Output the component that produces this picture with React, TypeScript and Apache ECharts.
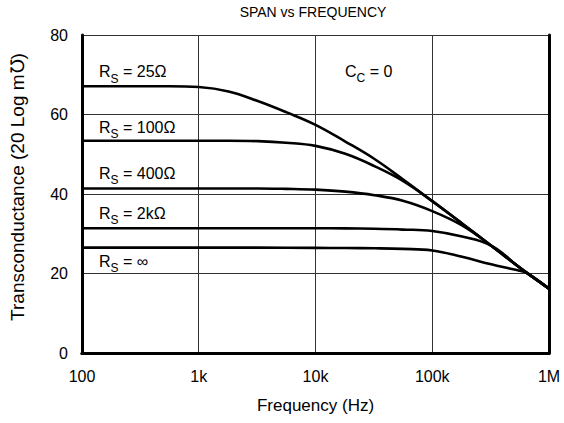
import React, { useEffect, useRef } from "react";
import * as echarts from "echarts";

const titleText = "SPAN vs FREQUENCY";
const xAxisName = "Frequency (Hz)";
const yAxisName = "Transconductance (20 Log m\u2127)";
const xTickValues = [100, 1000, 10000, 100000, 1000000];
const xTickLabels = ["100", "1k", "10k", "100k", "1M"];
const yTicks = [0, 20, 40, 60, 80];

// [frequency Hz, dB]
const rs25: [number, number][] = [
  [100, 67.1], [180, 67.1], [320, 67.1], [560, 67.1], [1000, 66.9], [1800, 65.8],
  [3200, 63.4], [5600, 60.6], [10000, 57.4], [18000, 53.2], [32000, 48.8],
  [56000, 43.7], [100000, 38.2], [180000, 32.6], [320000, 27.0], [560000, 21.5],
  [650000, 20.1], [1000000, 16.2],
];
const rs100: [number, number][] = [
  [100, 53.4], [180, 53.4], [320, 53.4], [560, 53.4], [1000, 53.4], [1800, 53.4],
  [3200, 53.3], [5600, 52.9], [10000, 52.1], [18000, 50.1], [32000, 47.0],
  [56000, 43.3], [100000, 38.2], [180000, 32.6], [320000, 27.0], [560000, 21.5],
  [650000, 20.1], [1000000, 16.2],
];
const rs400: [number, number][] = [
  [100, 41.4], [320, 41.4], [1000, 41.4], [1800, 41.4], [3200, 41.4], [5600, 41.3],
  [10000, 41.1], [18000, 40.6], [32000, 39.7], [56000, 38.3], [100000, 35.7],
  [180000, 32.1], [320000, 27.0], [560000, 21.5], [650000, 20.1], [1000000, 16.2],
];
const rs2k: [number, number][] = [
  [100, 31.4], [320, 31.4], [1000, 31.4], [3200, 31.4], [10000, 31.4], [18000, 31.35],
  [32000, 31.25], [56000, 31.05], [100000, 30.7], [180000, 29.3], [320000, 27.0],
  [560000, 21.5], [650000, 20.1], [1000000, 16.2],
];
const rsInf: [number, number][] = [
  [100, 26.5], [320, 26.5], [1000, 26.5], [3200, 26.5], [10000, 26.45], [18000, 26.4],
  [32000, 26.35], [56000, 26.2], [100000, 25.8], [180000, 24.2], [320000, 22.3],
  [450000, 21.3], [560000, 20.7], [650000, 20.1], [1000000, 16.2],
];

const seriesNames = ["RS = 25Ω", "RS = 100Ω", "RS = 400Ω", "RS = 2kΩ", "RS = ∞"];
const seriesData = [rs25, rs100, rs400, rs2k, rsInf];
const labelValues = ["25Ω", "100Ω", "400Ω", "2kΩ", "∞"];

const FONT = "'Liberation Sans', Arial, Helvetica, sans-serif";

export default function App() {
  const ref = useRef<HTMLDivElement>(null);
  useEffect(() => {
    if (!ref.current) return;
    document.body.style.margin = "0";
    const chart = echarts.init(ref.current, undefined, { renderer: "svg" });
    const rich = {
      r: { fontSize: 16, fontFamily: FONT, color: "#000" },
      s: { fontSize: 12, fontFamily: FONT, color: "#000", padding: [14, 0, 0, 0] },
    };
    const labelY = [71.5, 127.3, 173.3, 213.3, 261];
    const graphics: any[] = labelValues.map((v, i) => ({
      type: "text",
      x: 99,
      y: labelY[i],
      style: {
        text: `{r|R}{s|S}{r| = ${v}}`,
        rich,
        verticalAlign: "middle",
        align: "left",
      },
    }));
    graphics.push({
      type: "text",
      x: 345,
      y: 71,
      style: { text: "{r|C}{s|C}{r| = 0}", rich, verticalAlign: "middle", align: "left" },
    });
    graphics.push({
      type: "text",
      x: 313,
      y: 12,
      style: {
        text: titleText,
        font: `14px ${FONT}`,
        fill: "#000",
        align: "center",
        verticalAlign: "middle",
      },
    });
    const grid = { left: 77, right: 15, top: 35, bottom: 70 };
    const option: any = {
      animation: false,
      textStyle: { fontFamily: FONT },
      grid,
      graphic: graphics,
      xAxis: [
        {
          type: "log",
          logBase: 10,
          min: 100,
          max: 1000000,
          interval: 1,
          name: xAxisName,
          nameLocation: "middle",
          nameGap: 44,
          nameTextStyle: { fontSize: 17, color: "#000", fontFamily: FONT },
          axisLine: { show: true, lineStyle: { color: "#000", width: 3 } },
          axisTick: { show: false },
          minorTick: { show: false },
          axisLabel: {
            margin: 15,
            fontSize: 16,
            color: "#000",
            fontFamily: FONT,
            formatter: (val: number) => {
              const idx = xTickValues.findIndex((t) => Math.abs(Math.log10(t) - Math.log10(val)) < 1e-6);
              return idx >= 0 ? xTickLabels[idx] : "";
            },
          },
          splitLine: { show: true, lineStyle: { color: "#333", width: 1 } },
        },
        {
          type: "log",
          logBase: 10,
          min: 100,
          max: 1000000,
          position: "top",
          axisLine: { show: true, lineStyle: { color: "#000", width: 3 } },
          axisTick: { show: false },
          axisLabel: { show: false },
          splitLine: { show: false },
        },
      ],
      yAxis: [
        {
          type: "value",
          min: yTicks[0],
          max: yTicks[yTicks.length - 1],
          interval: 20,
          name: yAxisName,
          nameLocation: "middle",
          nameGap: 55,
          nameTextStyle: {
            fontSize: 19,
            color: "#000",
            fontFamily: FONT,
            padding: [0, 0, 0, 14],
          },
          axisLine: { show: true, lineStyle: { color: "#000", width: 3 } },
          axisTick: { show: false },
          axisLabel: { margin: 14, fontSize: 16, color: "#000", fontFamily: FONT },
          splitLine: { show: true, lineStyle: { color: "#333", width: 1 } },
        },
        {
          type: "value",
          min: 0,
          max: 80,
          position: "right",
          axisLine: { show: true, lineStyle: { color: "#000", width: 3 } },
          axisTick: { show: false },
          axisLabel: { show: false },
          splitLine: { show: false },
        },
      ],
      series: seriesData.map((d, i) => ({
        name: seriesNames[i],
        type: "line",
        data: d,
        smooth: 0.4,
        symbol: "none",
        xAxisIndex: 0,
        yAxisIndex: 0,
        lineStyle: { color: "#000", width: 2.6 },
        z: 3,
      })),
    };
    chart.setOption(option);
    return () => chart.dispose();
  }, []);
  return <div ref={ref} style={{ width: 564, height: 423 }} />;
}
